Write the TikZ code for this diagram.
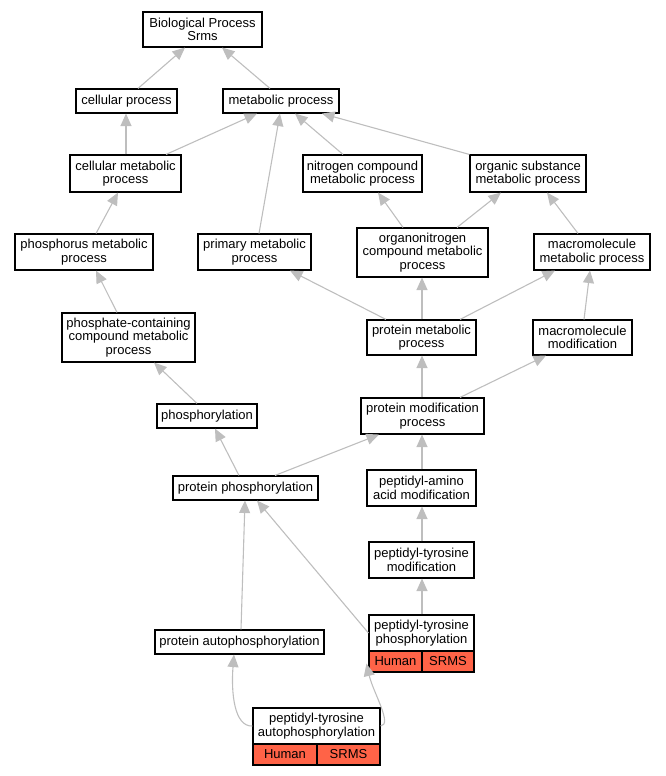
\documentclass[tikz,border=0pt]{standalone}
\usepackage{fontspec}
\setmainfont{Liberation Sans}
\usetikzlibrary{arrows.meta}
\definecolor{edgegray}{RGB}{190,190,190}
\definecolor{tomatored}{RGB}{255,99,71}
\newcommand{\gofont}{\fontsize{13}{13.5}\selectfont}
\tikzset{
  gobox/.style={draw=black, line width=1.1pt, fill=white, inner sep=0pt, align=center, font=\gofont},
  redcell/.style={gobox, fill=tomatored},
  goedge/.style={draw=edgegray, line width=1.1pt, -{Triangle[length=12.5pt,width=11pt,fill=edgegray]}},
}
\begin{document}
\begin{tikzpicture}[x=1pt,y=-1pt]
\path[use as bounding box] (0,0) rectangle (665,776);
% nodes
\node[gobox, minimum width=119pt, minimum height=35pt] (bp) at (202.5,29.5) {Biological Process\\Srms};
\node[gobox, minimum width=101pt, minimum height=24pt] (cp) at (126.5,101) {cellular process};
\node[gobox, minimum width=116pt, minimum height=24pt] (mp) at (281,101) {metabolic process};
\node[gobox, minimum width=111pt, minimum height=37pt] (cmp) at (125.5,173.5) {cellular metabolic\\process};
\node[gobox, minimum width=119pt, minimum height=37pt] (ncmp) at (362.5,173.5) {nitrogen compound\\metabolic process};
\node[gobox, minimum width=116pt, minimum height=37pt] (osmp) at (528,173.5) {organic substance\\metabolic process};
\node[gobox, minimum width=138pt, minimum height=36pt] (phmp) at (84,252) {phosphorus metabolic\\process};
\node[gobox, minimum width=113pt, minimum height=36pt] (pmp) at (254.5,252) {primary metabolic\\process};
\node[gobox, minimum width=131pt, minimum height=49pt] (onmp) at (422.5,252.5) {organonitrogen\\compound metabolic\\process};
\node[gobox, minimum width=116pt, minimum height=36pt] (mmp) at (592,252) {macromolecule\\metabolic process};
\node[gobox, minimum width=133pt, minimum height=49pt] (pcmp) at (128.5,337.5) {phosphate-containing\\compound metabolic\\process};
\node[gobox, minimum width=109pt, minimum height=35pt] (prmp) at (421.5,337.5) {protein metabolic\\process};
\node[gobox, minimum width=99pt, minimum height=35pt] (mm) at (582.5,337.5) {macromolecule\\modification};
\node[gobox, minimum width=100pt, minimum height=24pt] (phos) at (207,416) {phosphorylation};
\node[gobox, minimum width=123pt, minimum height=36pt] (pmod) at (422.5,416) {protein modification\\process};
\node[gobox, minimum width=145pt, minimum height=24pt] (pp) at (245.5,488) {protein phosphorylation};
\node[gobox, minimum width=109pt, minimum height=36pt] (paam) at (421.5,488) {peptidyl-amino\\acid modification};
\node[gobox, minimum width=105pt, minimum height=36pt] (ptm) at (421.5,560) {peptidyl-tyrosine\\modification};
\node[gobox, minimum width=169pt, minimum height=24pt] (pa) at (239.5,642) {protein autophosphorylation};
\node[gobox, minimum width=105pt, minimum height=36pt] (ptp) at (421.5,633) {peptidyl-tyrosine\\phosphorylation};
\node[redcell, minimum width=53pt, minimum height=21pt] (ptph) at (395.5,661.5) {Human};
\node[redcell, minimum width=52pt, minimum height=21pt] (ptps) at (448,661.5) {SRMS};
\node[gobox, minimum width=127pt, minimum height=36pt] (pta) at (316.5,726) {peptidyl-tyrosine\\autophosphorylation};
\node[redcell, minimum width=64pt, minimum height=21pt] (ptah) at (285,754.5) {Human};
\node[redcell, minimum width=63pt, minimum height=21pt] (ptas) at (348.5,754.5) {SRMS};
% edges
\draw[goedge] (cp.north -| 138,0) -- (bp.south -| 185,0);
\draw[goedge] (mp.north -| 270,0) -- (bp.south -| 222,0);
\draw[goedge] (cmp.north -| 126,0) -- (cp.south -| 126,0);
\draw[goedge] (cmp.north -| 166,0) -- (mp.south -| 257,0);
\draw[goedge] (pmp.north -| 259,0) -- (mp.south -| 280,0);
\draw[goedge] (ncmp.north -| 343,0) -- (mp.south -| 295,0);
\draw[goedge] (osmp.north west) -- (mp.south -| 322,0);
\draw[goedge] (phmp.north -| 96,0) -- (cmp.south -| 118,0);
\draw[goedge] (onmp.north -| 403,0) -- (ncmp.south -| 378,0);
\draw[goedge] (onmp.north -| 457,0) -- (osmp.south -| 501,0);
\draw[goedge] (mmp.north -| 578,0) -- (osmp.south -| 547,0);
\draw[goedge] (pcmp.north -| 117,0) -- (phmp.south -| 96,0);
\draw[goedge] (prmp.north -| 386,0) -- (pmp.south -| 290,0);
\draw[goedge] (prmp.north -| 422,0) -- (onmp.south -| 422,0);
\draw[goedge] (prmp.north -| 460,0) -- (mmp.south -| 555,0);
\draw[goedge] (mm.north -| 584,0) -- (mmp.south -| 590,0);
\draw[goedge] (phos.north -| 197,0) -- (pcmp.south -| 154,0);
\draw[goedge] (pmod.north -| 422,0) -- (prmp.south -| 422,0);
\draw[goedge] (pmod.north -| 460,0) -- (mm.south -| 546,0);
\draw[goedge] (pp.north -| 239,0) -- (phos.south -| 215,0);
\draw[goedge] (pp.north -| 275,0) -- (pmod.south -| 379,0);
\draw[goedge] (paam.north -| 422,0) -- (pmod.south -| 422,0);
\draw[goedge] (ptm.north -| 422,0) -- (paam.south -| 422,0);
\draw[goedge] (ptp.north -| 422,0) -- (ptm.south -| 422,0);
\draw[goedge] (ptp.west) -- (pp.south -| 257,0);
\draw[goedge] (pa.north -| 241,0) -- (pp.south -| 245,0);
\draw[goedge] (pta.west) .. controls (234,727) and (231,692) .. (pa.south -| 234,0);
\draw[goedge] (pta.east) .. controls (393,725) and (373,692) .. ([xshift=-2pt,yshift=9pt]ptph.south west);
\end{tikzpicture}
\end{document}
